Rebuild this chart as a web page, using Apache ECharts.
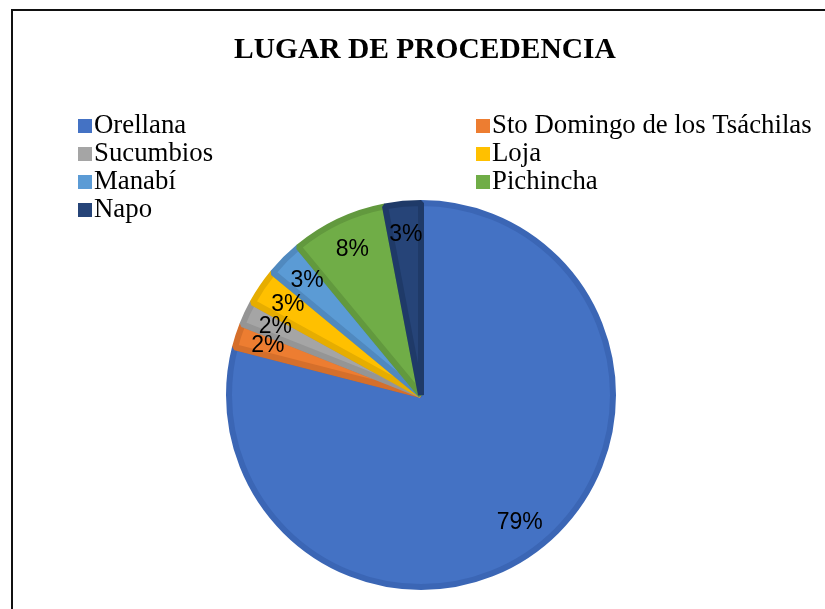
<!DOCTYPE html>
<html>
<head>
<meta charset="utf-8">
<script src="https://cdn.jsdelivr.net/npm/echarts@6/dist/echarts.min.js"></script>
<style>
html,body{margin:0;padding:0;background:#fff;}
#chart{width:825px;height:609px;}
</style>
</head>
<body>
<div id="chart"></div>
<script>
const titleText = 'LUGAR DE PROCEDENCIA';
const categories = ['Orellana', 'Sto Domingo de los Tsáchilas', 'Sucumbios', 'Loja', 'Manabí', 'Pichincha', 'Napo'];
const values = [79, 2, 2, 3, 3, 8, 3];
const colors = ['#4472C4', '#ED7D31', '#A5A5A5', '#FFC000', '#5B9BD5', '#70AD47', '#264478'];
const edgeColors = ['#3b66b5', '#d56f2b', '#959595', '#e6ad00', '#5089bf', '#62993e', '#1f3a68'];
const legendLeft = ['Orellana', 'Sucumbios', 'Manabí', 'Napo'];
const legendRight = ['Sto Domingo de los Tsáchilas', 'Loja', 'Pichincha'];

const chart = echarts.init(document.getElementById('chart'), null, {renderer: 'canvas'});

const pieData = categories.map((c, i) => ({
  name: c,
  value: values[i],
  itemStyle: {color: colors[i], borderColor: edgeColors[i]}
}));
const labelData = categories.map((c, i) => ({name: c, value: values[i]}));

const legendCommon = {
  orient: 'vertical',
  icon: 'rect',
  itemWidth: 14,
  itemHeight: 14,
  itemGap: 0,
  selectedMode: false,
  textStyle: {fontFamily: 'Liberation Serif', fontSize: 26.8, color: '#000', lineHeight: 28, padding: [0, 0, 0, -3]},
  itemStyle: {borderWidth: 0}
};

chart.setOption({
  animation: false,
  backgroundColor: '#fff',
  title: {
    text: titleText,
    left: 229,
    top: 30,
    textStyle: {fontFamily: 'Liberation Serif', fontWeight: 'bold', fontSize: 29.5, color: '#000'}
  },
  legend: [
    Object.assign({data: legendLeft, left: 73, top: 107}, legendCommon),
    Object.assign({data: legendRight, left: 471, top: 107}, legendCommon)
  ],
  graphic: [{
    type: 'polyline',
    shape: {points: [[12, 609], [12, 10], [825, 10]]},
    style: {stroke: '#111', lineWidth: 2, fill: null},
    silent: true
  }],
  series: [
    {
      type: 'pie',
      center: [421, 395],
      radius: [0, 192],
      startAngle: 90,
      clockwise: true,
      label: {show: false},
      labelLine: {show: false},
      emphasis: {disabled: true},
      itemStyle: {borderWidth: 6, borderJoin: 'bevel'},
      data: pieData
    },
    {
      type: 'pie',
      center: [421, 395],
      radius: [122, 194],
      startAngle: 90,
      clockwise: true,
      silent: true,
      avoidLabelOverlap: false,
      emphasis: {disabled: true},
      itemStyle: {color: 'rgba(0,0,0,0)', borderWidth: 0},
      labelLayout: {hideOverlap: false},
      label: {
        show: true,
        position: 'inside',
        fontFamily: 'Liberation Sans',
        fontSize: 23,
        color: '#000',
        formatter: p => Math.round(p.percent) + '%'
      },
      labelLine: {show: false},
      data: labelData
    }
  ]
});
</script>
</body>
</html>
